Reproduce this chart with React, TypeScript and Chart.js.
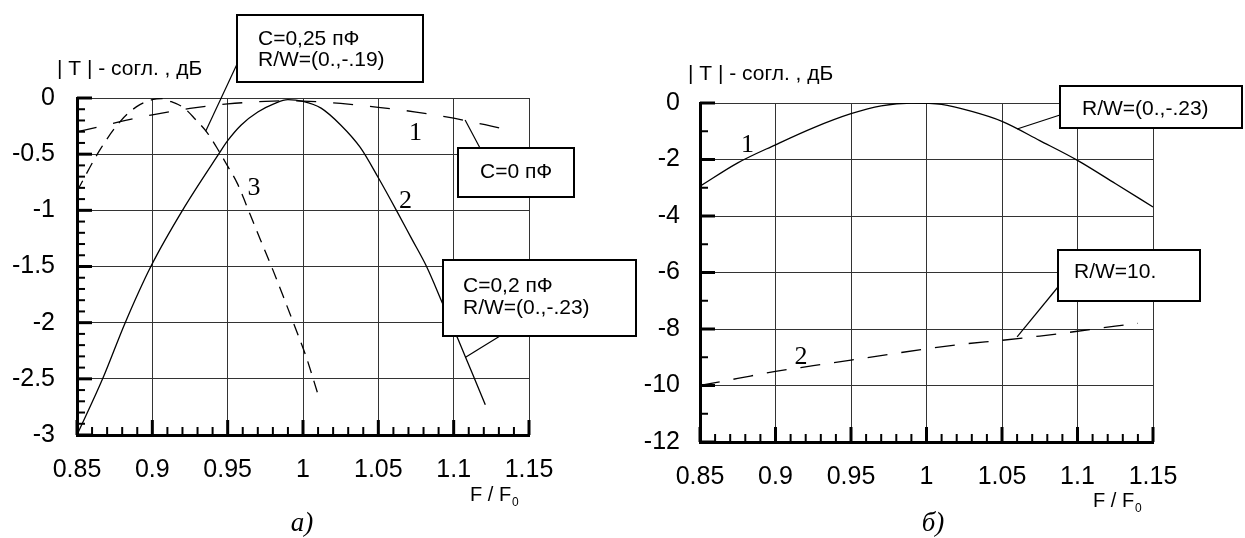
import React, { useEffect, useRef } from 'react';
import { Chart, registerables } from 'chart.js';

Chart.register(...registerables);

// ---------------- data ----------------
const xTicks = [0.85, 0.9, 0.95, 1.0, 1.05, 1.1, 1.15];
const xTickLabels = ['0.85', '0.9', '0.95', '1', '1.05', '1.1', '1.15'];

const yTicksA = [0, -0.5, -1, -1.5, -2, -2.5, -3];
const yTickLabelsA = ['0', '-0.5', '-1', '-1.5', '-2', '-2.5', '-3'];
const yTicksB = [0, -2, -4, -6, -8, -10, -12];
const yTickLabelsB = ['0', '-2', '-4', '-6', '-8', '-10', '-12'];

// panel a) curve 1 : C = 0 pF (long dash)
const a1F = [0.85, 0.865, 0.88, 0.9, 0.925, 0.95, 0.975, 0.99, 1.0, 1.025, 1.05, 1.075, 1.1, 1.125, 1.14];
const a1T = [-0.3, -0.255, -0.205, -0.15, -0.093, -0.053, -0.03, -0.024, -0.027, -0.048, -0.083, -0.125, -0.18, -0.25, -0.295];

// panel a) curve 2 : C = 0.2 pF, R/W=(0.,-.23) (solid)
const a2F = [0.85, 0.867, 0.882, 0.899, 0.92, 0.944, 0.95, 0.959, 0.97, 0.981, 0.99, 1.0, 1.012, 1.025, 1.038, 1.05, 1.062, 1.072, 1.082, 1.093, 1.103, 1.112, 1.121];
const a2T = [-3.0, -2.5, -2.0, -1.5, -1.0, -0.5, -0.38, -0.24, -0.125, -0.05, -0.015, -0.03, -0.09, -0.24, -0.44, -0.71, -1.0, -1.25, -1.5, -1.84, -2.15, -2.44, -2.73];

// panel a) curve 3 : C = 0.25 pF, R/W=(0.,-.19) (short dash)
const a3F = [0.85, 0.8653, 0.8786, 0.8896, 0.9007, 0.906, 0.911, 0.921, 0.9287, 0.9365, 0.9442, 0.95, 0.9564, 0.965, 0.972, 0.98, 0.987, 0.995, 1.002, 1.01];
const a3T = [-0.83, -0.46, -0.21, -0.077, -0.012, -0.005, -0.025, -0.089, -0.192, -0.31, -0.473, -0.607, -0.76, -1.04, -1.27, -1.53, -1.77, -2.05, -2.3, -2.64];

// panel б) curve 1 : R/W=(0.,-.23) (solid)
const b1F = [0.85, 0.875, 0.9, 0.925, 0.95, 0.97, 0.99, 1.01, 1.03, 1.05, 1.075, 1.1, 1.125, 1.15];
const b1T = [-2.95, -2.12, -1.48, -0.88, -0.38, -0.1, 0, -0.05, -0.3, -0.65, -1.33, -2.03, -2.85, -3.68];

// panel б) curve 2 : R/W=10. (dashed)
const b2F = [0.85, 0.875, 0.9, 0.925, 0.95, 0.975, 1.0, 1.025, 1.05, 1.075, 1.1, 1.125, 1.14];
const b2T = [-10.0, -9.75, -9.5, -9.3, -9.1, -8.9, -8.7, -8.53, -8.4, -8.25, -8.08, -7.9, -7.8];

// ---------------- styling ----------------
const SANS = "'Liberation Sans', Arial, sans-serif";
const SERIF = "'Liberation Serif', 'Times New Roman', serif";
const GRID = '#333';
const X_MIN = 0.85;
const X_MAX = 1.15;
const X_MINOR = 0.01;
const Y_TITLE = '| T | - согл. , дБ';

type Note = {
  box: [number, number, number, number];
  lines: { t: string; x: number; y: number }[];
  from: [number, number];
  to: [number, number];
};

type PanelCfg = {
  width: number;
  yMin: number;
  yTicks: number[];
  yLabels: string[];
  yMinor: number;
  yMajorEvery: number;
  yAxisWidth: number;
  yLabelPad: number;
  xAxisHeight: number;
  padTop: number;
  padRight: number;
  series: { f: number[]; t: number[]; dash: number[] }[];
  notes: Note[];
  nums: { t: string; x: number; y: number }[];
  titlePos: [number, number];
  fPos: [number, number];
  caption: string;
  captionPos: [number, number];
};

function makeDecor(cfg: PanelCfg) {
  return {
    id: 'decor',
    afterDraw(chart: any) {
      const { ctx, chartArea: ca, scales } = chart;
      const xs = scales.x;
      const ys = scales.y;
      ctx.save();
      ctx.strokeStyle = '#000';
      ctx.fillStyle = '#000';
      ctx.lineCap = 'butt';
      // inward ticks on x axis
      const nx = Math.round((X_MAX - X_MIN) / X_MINOR);
      for (let i = 0; i <= nx; i++) {
        const major = i % 5 === 0;
        const px = xs.getPixelForValue(X_MIN + i * X_MINOR);
        ctx.lineWidth = major ? 3 : 2;
        ctx.beginPath();
        ctx.moveTo(px, ca.bottom);
        ctx.lineTo(px, ca.bottom - (major ? 15 : 8));
        ctx.stroke();
      }
      // inward ticks on y axis
      const ny = Math.round((0 - cfg.yMin) / cfg.yMinor);
      for (let j = 0; j <= ny; j++) {
        const major = j % cfg.yMajorEvery === 0;
        const py = ys.getPixelForValue(-j * cfg.yMinor);
        ctx.lineWidth = major ? 3 : 2;
        ctx.beginPath();
        ctx.moveTo(ca.left, py);
        ctx.lineTo(ca.left + (major ? 15 : 8), py);
        ctx.stroke();
      }
      // curve number labels
      ctx.font = `26px ${SERIF}`;
      ctx.textAlign = 'center';
      ctx.textBaseline = 'middle';
      for (const n of cfg.nums) {
        ctx.fillText(n.t, xs.getPixelForValue(n.x), ys.getPixelForValue(n.y));
      }
      // callout boxes
      for (const n of cfg.notes) {
        ctx.lineWidth = 1.2;
        ctx.beginPath();
        ctx.moveTo(n.from[0], n.from[1]);
        ctx.lineTo(xs.getPixelForValue(n.to[0]), ys.getPixelForValue(n.to[1]));
        ctx.stroke();
        const [bx, by, bw, bh] = n.box;
        ctx.fillStyle = '#fff';
        ctx.fillRect(bx, by, bw, bh);
        ctx.lineWidth = 2;
        ctx.strokeRect(bx, by, bw, bh);
        ctx.fillStyle = '#000';
        ctx.font = `21px ${SANS}`;
        ctx.textAlign = 'left';
        ctx.textBaseline = 'alphabetic';
        for (const l of n.lines) ctx.fillText(l.t, l.x, l.y);
      }
      // y title
      ctx.font = `21px ${SANS}`;
      ctx.textAlign = 'left';
      ctx.textBaseline = 'alphabetic';
      ctx.fillText(Y_TITLE, cfg.titlePos[0], cfg.titlePos[1]);
      // x title F / F0
      ctx.font = `20px ${SANS}`;
      const fx = cfg.fPos[0];
      const fy = cfg.fPos[1];
      ctx.fillText('F / F', fx, fy);
      const w = ctx.measureText('F / F').width;
      ctx.font = `12px ${SANS}`;
      ctx.fillText('0', fx + w + 1, fy + 5);
      // caption
      ctx.font = `italic 27px ${SERIF}`;
      ctx.textAlign = 'center';
      ctx.fillText(cfg.caption, cfg.captionPos[0], cfg.captionPos[1]);
      ctx.restore();
    },
  };
}

function buildConfig(cfg: PanelCfg): any {
  const tickFont = { family: SANS, size: 25 };
  return {
    type: 'line',
    data: {
      datasets: cfg.series.map((s) => ({
        data: s.f.map((f, i) => ({ x: f, y: s.t[i] })),
        borderColor: '#000',
        borderWidth: 1.3,
        borderDash: s.dash,
        pointRadius: 0,
        fill: false,
        cubicInterpolationMode: 'monotone',
      })),
    },
    options: {
      responsive: false,
      maintainAspectRatio: false,
      animation: false,
      events: [],
      layout: { padding: { left: 0, right: cfg.padRight, top: cfg.padTop, bottom: 0 } },
      plugins: { legend: { display: false }, tooltip: { enabled: false }, title: { display: false } },
      scales: {
        x: {
          type: 'linear',
          min: X_MIN,
          max: X_MAX,
          afterBuildTicks: (s: any) => {
            s.ticks = xTicks.map((v) => ({ value: v }));
          },
          afterFit: (s: any) => {
            s.height = cfg.xAxisHeight;
          },
          ticks: {
            autoSkip: false,
            maxRotation: 0,
            minRotation: 0,
            padding: 20,
            color: '#000',
            font: tickFont,
            callback: (v: number) => xTickLabels[xTicks.findIndex((t) => Math.abs(t - v) < 1e-6)],
          },
          grid: { color: GRID, lineWidth: 1, drawTicks: false },
          border: { display: true, color: '#000', width: 3 },
        },
        y: {
          type: 'linear',
          min: cfg.yMin,
          max: 0,
          afterBuildTicks: (s: any) => {
            s.ticks = cfg.yTicks.map((v) => ({ value: v }));
          },
          afterFit: (s: any) => {
            s.width = cfg.yAxisWidth;
          },
          ticks: {
            autoSkip: false,
            padding: cfg.yLabelPad,
            color: '#000',
            font: tickFont,
            callback: (v: number) => cfg.yLabels[cfg.yTicks.findIndex((t) => Math.abs(t - v) < 1e-6)],
          },
          grid: { color: GRID, lineWidth: 1, drawTicks: false },
          border: { display: true, color: '#000', width: 3 },
        },
      },
    },
    plugins: [makeDecor(cfg)],
  };
}

const OFF_B = 640;

const panelA: PanelCfg = {
  width: 640,
  yMin: -3,
  yTicks: yTicksA,
  yLabels: yTickLabelsA,
  yMinor: 0.1,
  yMajorEvery: 5,
  yAxisWidth: 77,
  yLabelPad: 22,
  xAxisHeight: 103,
  padTop: 98,
  padRight: 640 - 529,
  series: [
    { f: a1F, t: a1T, dash: [20, 17] },
    { f: a2F, t: a2T, dash: [] },
    { f: a3F, t: a3T, dash: [12, 8] },
  ],
  notes: [
    {
      box: [237, 15, 186, 67],
      lines: [
        { t: 'C=0,25 пФ', x: 258, y: 45 },
        { t: 'R/W=(0.,-.19)', x: 258, y: 66 },
      ],
      from: [238, 62],
      to: [0.9354, -0.296],
    },
    {
      box: [458, 148, 116, 49],
      lines: [{ t: 'C=0 пФ', x: 480, y: 178 }],
      from: [480, 148],
      to: [1.1076, -0.196],
    },
    {
      box: [443, 260, 193, 76],
      lines: [
        { t: 'C=0,2 пФ', x: 463, y: 292 },
        { t: 'R/W=(0.,-.23)', x: 463, y: 314 },
      ],
      from: [500, 336],
      to: [1.1076, -2.31],
    },
  ],
  nums: [
    { t: '1', x: 1.0746, y: -0.311 },
    { t: '2', x: 1.068, y: -0.917 },
    { t: '3', x: 0.9674, y: -0.799 },
  ],
  titlePos: [57, 75],
  fPos: [470, 501],
  caption: 'а)',
  captionPos: [302, 531],
};

const panelB: PanelCfg = {
  width: 605,
  yMin: -12,
  yTicks: yTicksB,
  yLabels: yTickLabelsB,
  yMinor: 1,
  yMajorEvery: 2,
  yAxisWidth: 700 - OFF_B,
  yLabelPad: 20,
  xAxisHeight: 538 - 442,
  padTop: 103,
  padRight: 1245 - 1153,
  series: [
    { f: b1F, t: b1T, dash: [] },
    { f: b2F, t: b2T, dash: [20, 14] },
  ],
  notes: [
    {
      box: [1060 - OFF_B, 86, 182, 42],
      lines: [{ t: 'R/W=(0.,-.23)', x: 1082 - OFF_B, y: 115 }],
      from: [1060 - OFF_B, 115],
      to: [1.06, -0.92],
    },
    {
      box: [1058 - OFF_B, 250, 142, 51],
      lines: [{ t: 'R/W=10.', x: 1074 - OFF_B, y: 278 }],
      from: [1058 - OFF_B, 287],
      to: [1.06, -8.28],
    },
  ],
  nums: [
    { t: '1', x: 0.8815, y: -1.49 },
    { t: '2', x: 0.9169, y: -8.99 },
  ],
  titlePos: [688 - OFF_B, 80],
  fPos: [1093 - OFF_B, 507],
  caption: 'б)',
  captionPos: [933 - OFF_B, 531],
};

function Panel({ cfg, left }: { cfg: PanelCfg; left: number }) {
  const ref = useRef<HTMLCanvasElement>(null);
  useEffect(() => {
    if (!ref.current) return;
    const chart = new Chart(ref.current, buildConfig(cfg));
    return () => chart.destroy();
  }, [cfg]);
  return (
    <canvas
      ref={ref}
      width={cfg.width}
      height={538}
      style={{ position: 'absolute', left, top: 0, width: cfg.width, height: 538 }}
    />
  );
}

export default function App() {
  return (
    <div
      style={{
        position: 'absolute',
        left: 0,
        top: 0,
        width: 1245,
        height: 538,
        background: '#fff',
        overflow: 'hidden',
      }}
    >
      <Panel cfg={panelA} left={0} />
      <Panel cfg={panelB} left={OFF_B} />
    </div>
  );
}
